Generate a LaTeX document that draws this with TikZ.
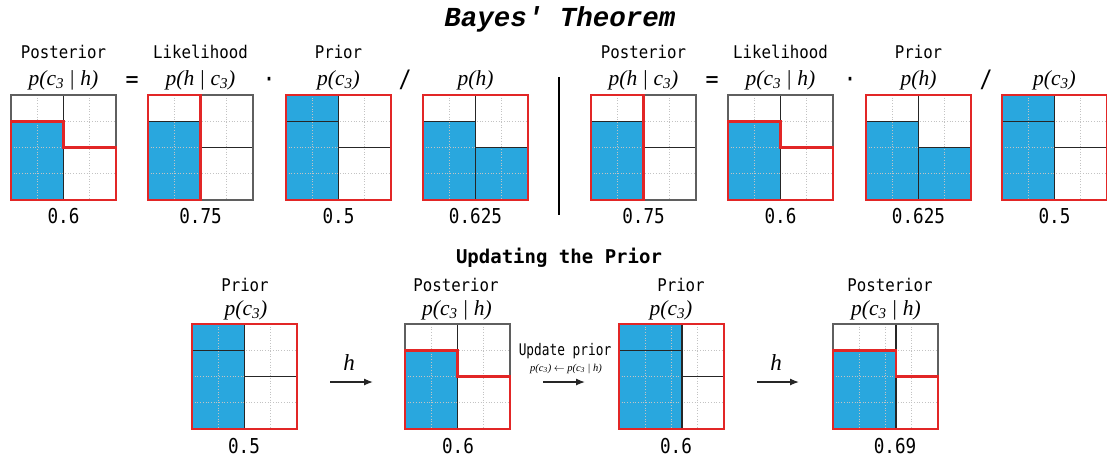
\documentclass[tikz,border=0pt]{standalone}
\usepackage{fontspec}
\setmainfont{Liberation Serif}
\newfontfamily\labfont[FakeStretch=0.9,Ligatures=TeXOff]{DejaVu Sans Mono}
\newfontfamily\numfont[FakeStretch=0.86,Ligatures=TeXOff]{DejaVu Sans Mono}
\newfontfamily\updfont[FakeStretch=0.8,Ligatures=TeXOff]{DejaVu Sans Mono}
\newfontfamily\headfont[Ligatures=TeXOff]{DejaVu Sans Mono}
\newfontfamily\titlefont[Ligatures=TeXOff]{Liberation Mono}
\usetikzlibrary{arrows.meta}

\definecolor{cblue}{RGB}{41,167,222}
\definecolor{hred}{RGB}{226,38,38}
\definecolor{framegray}{RGB}{95,95,95}
\definecolor{dotgray}{RGB}{195,195,195}

\newcommand{\pr}[1]{\textit{p(#1)}}
\newcommand{\cc}{c\textsubscript{3}}
\newcommand{\gv}{\hspace{0.28em}{\upshape|}\hspace{0.28em}}

% fills and red outlines of one grid (x, y, split in \gx, \gy, \gp)
\newcommand{\gfillc}{\fill[cblue] (\gx,\gy) rectangle ({\gx+\gp*105},{\gy+105});}
\newcommand{\gfillhc}{\fill[cblue] (\gx,{\gy+26.25}) rectangle ({\gx+\gp*105},{\gy+105});}
\newcommand{\gfillh}{\gfillhc\fill[cblue] ({\gx+\gp*105},{\gy+52.5}) rectangle ({\gx+105},{\gy+105});}
\newcommand{\gredc}{\draw[redline] (\gx,\gy) rectangle ({\gx+\gp*105},{\gy+105});}
\newcommand{\gredall}{\draw[redline] (\gx,\gy) rectangle ({\gx+105},{\gy+105});}
\newcommand{\gredh}{\draw[redline] (\gx,{\gy+26.25}) -| ({\gx+\gp*105},{\gy+52.5}) -| ({\gx+105},{\gy+105}) -- (\gx,{\gy+105}) -- cycle;}

% #1 name, #2 left, #3 top, #4 share of c3, #5 fill, #6 red outline
\newcommand{\bgrid}[6]{%
  \def\gx{#2}\def\gy{#3}\def\gp{#4}%
  \node[gridbox] (#1) at ({#2+52.5},{#3+52.5}) {};
  \csname gfill#5\endcsname
  \foreach \k in {1,2,3}{%
    \draw[dotline] ({\gx+\k*26.25},\gy) -- ++(0,105);
    \draw[dotline] (\gx,{\gy+\k*26.25}) -- ++(105,0);
  }%
  \draw[divline] ({\gx+\gp*105},\gy) -- ++(0,105);
  \draw[divline] (\gx,{\gy+26.25}) -- ({\gx+\gp*105},{\gy+26.25});
  \draw[divline] ({\gx+\gp*105},{\gy+52.5}) -- ({\gx+105},{\gy+52.5});
  \draw[frameline] (\gx,\gy) rectangle ({\gx+105},{\gy+105});
  \csname gred#6\endcsname
}

\tikzset{
  gridbox/.style={draw=none, fill=white, minimum width=105pt, minimum height=105pt, inner sep=0pt},
  dotline/.style={dotgray, dotted, line width=0.7pt},
  divline/.style={black!85, line width=1.4pt},
  frameline/.style={framegray, line width=1.3pt},
  redline/.style={hred, line width=2.6pt},
  termlbl/.style={anchor=base, inner sep=0pt, font={\labfont\fontsize{17.5}{20}\selectfont}},
  exprlbl/.style={anchor=base, inner sep=0pt, font={\fontsize{21.5}{24}\selectfont}},
  vallbl/.style={anchor=base, inner sep=0pt, font={\numfont\fontsize{20.5}{24}\selectfont}},
  oplbl/.style={anchor=base, inner sep=0pt, font={\labfont\fontsize{24}{26}\selectfont}},
  flow/.style={-{Latex[length=9pt,width=7pt]}, black!85, line width=1.3pt}
}

\begin{document}
\begin{tikzpicture}[x=1pt, y=-1pt]
  \fill[white] (0,0) rectangle (1107,459);
  \useasboundingbox (0,0) rectangle (1107,459);

  \node[anchor=base, inner sep=0pt, font={\titlefont\bfseries\itshape\fontsize{27.5}{30}\selectfont}] (title) at (560,26) {Bayes' Theorem};

  % left equation
  \bgrid{g1}{11}{95}{0.5}{hc}{h}
  \bgrid{g2}{148}{95}{0.5}{hc}{c}
  \bgrid{g3}{286}{95}{0.5}{c}{all}
  \bgrid{g4}{423}{95}{0.5}{h}{all}
  \node[termlbl] (n1) at (63.5,58) {Posterior};
  \node[termlbl] (n2) at (200.5,58) {Likelihood};
  \node[termlbl] (n3) at (338.5,58) {Prior};
  \node[exprlbl] (e1) at (63.5,85) {\pr{\cc\gv h}};
  \node[exprlbl] (e2) at (200.5,85) {\pr{h\gv\cc}};
  \node[exprlbl] (e3) at (338.5,85) {\pr{\cc}};
  \node[exprlbl] (e4) at (475.5,85) {\pr{h}};
  \node[oplbl] (eq1) at (132,87) {=};
  \node[oplbl] (dot1) at (269,87) {·};
  \node[oplbl] (div1) at (405,87) {/};
  \node[vallbl] (v1) at (63.5,223) {0.6};
  \node[vallbl] (v2) at (200.5,223) {0.75};
  \node[vallbl] (v3) at (338.5,223) {0.5};
  \node[vallbl] (v4) at (475.5,223) {0.625};

  \coordinate (sept) at (559,77);
  \coordinate (sepb) at (559,215);
  \draw[black, line width=2pt] (sept) -- (sepb);

  % right equation
  \bgrid{g5}{591}{95}{0.5}{hc}{c}
  \bgrid{g6}{728}{95}{0.5}{hc}{h}
  \bgrid{g7}{866}{95}{0.5}{h}{all}
  \bgrid{g8}{1002}{95}{0.5}{c}{all}
  \node[termlbl] (n5) at (643.5,58) {Posterior};
  \node[termlbl] (n6) at (780.5,58) {Likelihood};
  \node[termlbl] (n7) at (918.5,58) {Prior};
  \node[exprlbl] (e5) at (643.5,85) {\pr{h\gv\cc}};
  \node[exprlbl] (e6) at (780.5,85) {\pr{\cc\gv h}};
  \node[exprlbl] (e7) at (918.5,85) {\pr{h}};
  \node[exprlbl] (e8) at (1054.5,85) {\pr{\cc}};
  \node[oplbl] (eq2) at (712,87) {=};
  \node[oplbl] (dot2) at (850,87) {·};
  \node[oplbl] (div2) at (986,87) {/};
  \node[vallbl] (v5) at (643.5,223) {0.75};
  \node[vallbl] (v6) at (780.5,223) {0.6};
  \node[vallbl] (v7) at (918.5,223) {0.625};
  \node[vallbl] (v8) at (1054.5,223) {0.5};

  % updating the prior
  \node[anchor=base, inner sep=0pt, font={\headfont\bfseries\fontsize{19}{22}\selectfont}] (upd) at (559,263) {Updating the Prior};
  \bgrid{b1}{192}{324}{0.5}{c}{all}
  \bgrid{b2}{405}{324}{0.5}{hc}{h}
  \bgrid{b3}{619}{324}{0.6}{c}{all}
  \bgrid{b4}{833}{324}{0.6}{hc}{h}
  \node[termlbl] (m1) at (245,291) {Prior};
  \node[termlbl] (m2) at (456,291) {Posterior};
  \node[termlbl] (m3) at (681,291) {Prior};
  \node[termlbl] (m4) at (890,291) {Posterior};
  \node[exprlbl] (f1) at (246,315) {\pr{\cc}};
  \node[exprlbl] (f2) at (457,315) {\pr{\cc\gv h}};
  \node[exprlbl] (f3) at (671,315) {\pr{\cc}};
  \node[exprlbl] (f4) at (886,315) {\pr{\cc\gv h}};
  \node[vallbl] (w1) at (244,453) {0.5};
  \node[vallbl] (w2) at (458,453) {0.6};
  \node[vallbl] (w3) at (676,453) {0.6};
  \node[vallbl] (w4) at (895,453) {0.69};

  \coordinate (a1s) at (330,382);
  \coordinate (a1e) at (373,382);
  \draw[flow] (a1s) -- (a1e);
  \node[exprlbl, font={\fontsize{23}{26}\selectfont}] (h1) at (349,370) {\textit{h}};
  \coordinate (a2s) at (543,382);
  \coordinate (a2e) at (585,382);
  \draw[flow] (a2s) -- (a2e);
  \node[anchor=base, inner sep=0pt, font={\updfont\fontsize{16}{18}\selectfont}] (updl) at (565,355) {Update prior};
  \node[anchor=base, inner sep=0pt, font={\fontsize{10.5}{12}\selectfont}] (updf) at (566,371) {\pr{\cc} $\leftarrow$ \pr{\cc\gv h}};
  \coordinate (a3s) at (757,382);
  \coordinate (a3e) at (799,382);
  \draw[flow] (a3s) -- (a3e);
  \node[exprlbl, font={\fontsize{23}{26}\selectfont}] (h2) at (776,370) {\textit{h}};
\end{tikzpicture}
\end{document}
